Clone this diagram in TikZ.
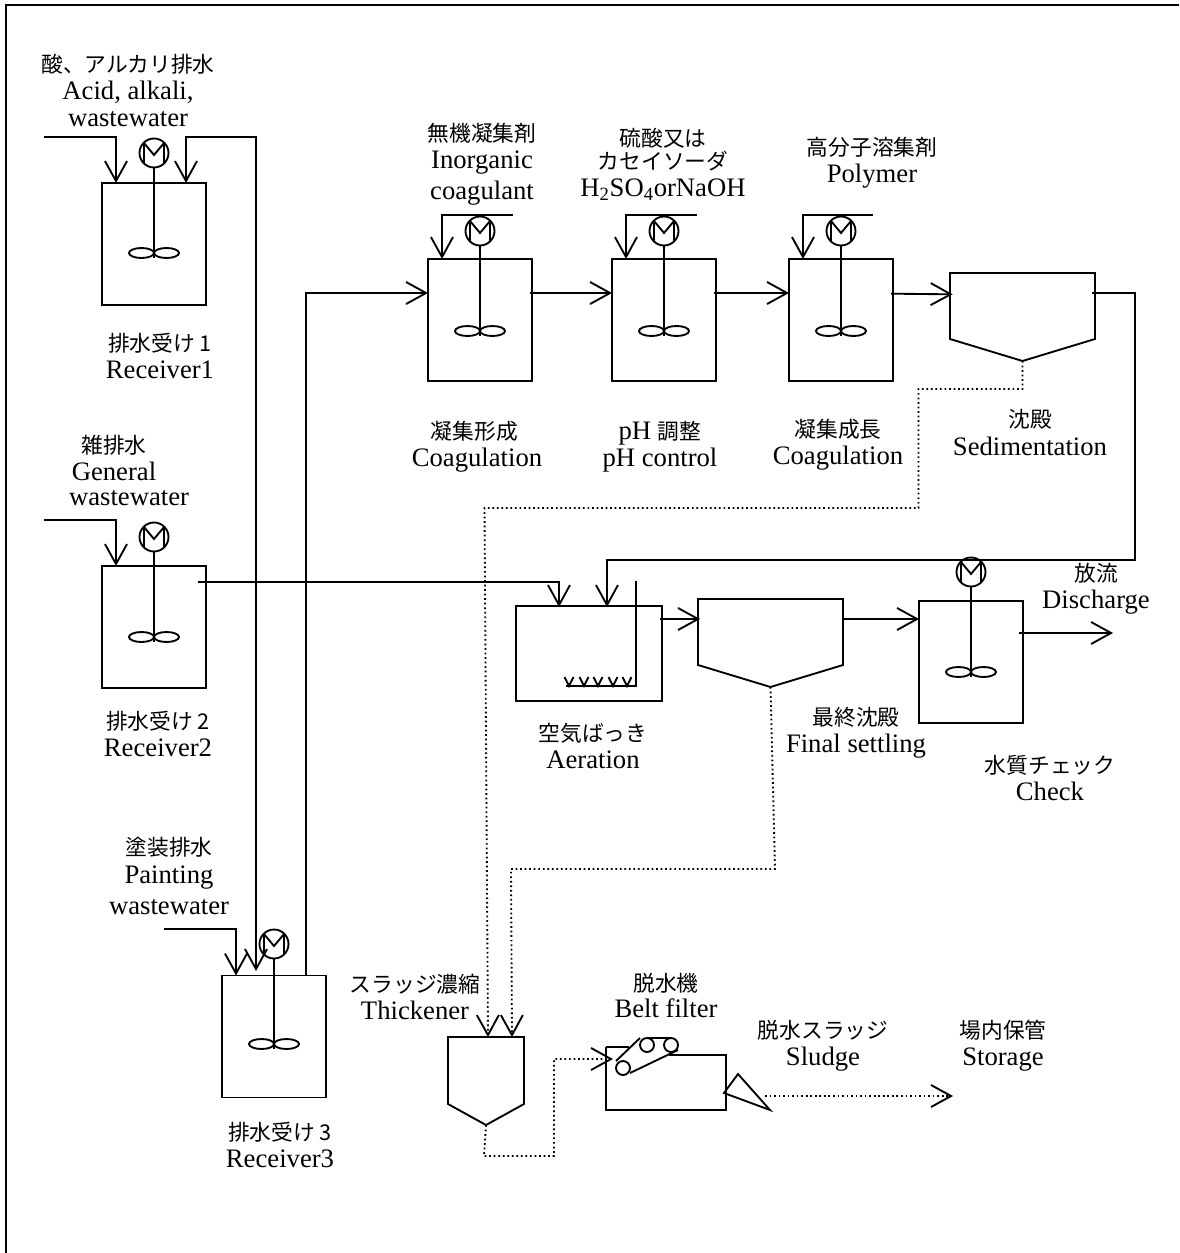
\documentclass[tikz,border=0pt]{standalone}
\usepackage{fontspec}
\setmainfont{Liberation Serif}
\newfontfamily\jpfont{Noto Sans CJK JP}
\newcommand{\jp}[1]{{\jpfont\fontsize{16.3}{20}\selectfont #1}}
\usetikzlibrary{arrows.meta,positioning}

\begin{document}
\begin{tikzpicture}[x=0.75pt, y=-0.75pt, line width=1.4pt,
    >={Straight Barb[length=15pt,width=16.5pt]},
    tank/.style={rectangle, draw, inner sep=0pt, outer sep=0pt, minimum width=78pt, minimum height=91.5pt},
    hop/.style={rectangle, inner sep=0pt, outer sep=0pt},
    motor/.style={circle, draw, inner sep=0pt, outer sep=0pt, minimum size=21.75pt},
    roller/.style={circle, draw, inner sep=0pt, outer sep=0pt, minimum size=10.5pt},
    lab/.style={inner sep=0pt, align=center, font=\fontsize{20}{20.3}\selectfont},
    ar/.style={->},
    dr/.style={dash pattern=on 1.3pt off 2.1pt},
    mixer/.pic={
        \node [motor] (-m) at (0,0) {};
        \draw (-10,-10) -- (-10,10) (10,-10) -- (10,10);
        \draw (-10,-10) -- (0,2) -- (10,-10);
        \draw (-m.south) -- (0,105);
        \draw (-12.5,100) ellipse [x radius=12.5, y radius=5];
        \draw (12.5,100) ellipse [x radius=12.5, y radius=5];
    }]
    \useasboundingbox (0,0) rectangle (1179,1253);
    \draw (6,1253) -- (6,5) -- (1179,5);

    % tanks
    \node [tank] (rcvone) at (154,244) {};
    \node [tank] (rcvtwo) at (154,627) {};
    \node [tank] (rcvthree) at (274,1036.5) {};
    \node [tank] (coagone) at (480,320) {};
    \node [tank] (phctl) at (664,320) {};
    \node [tank] (coagtwo) at (841,320) {};
    \node [tank] (check) at (971,662) {};
    \node [tank, minimum width=109.5pt, minimum height=71.25pt] (aer) at (589,653.5) {};
    \pic (mone) at (154,153) {mixer};
    \pic (mtwo) at (154,537) {mixer};
    \pic (mthree) at (274,944) {mixer};
    \pic (mcoagone) at (480,231) {mixer};
    \pic (mph) at (664,231) {mixer};
    \pic (mcoagtwo) at (841,231) {mixer};
    \pic (mcheck) at (971,572) {mixer};

    % settlers
    \node [hop, minimum width=108.75pt, minimum height=49.5pt] (sed) at (1022.5,306) {};
    \node [hop, minimum width=108.75pt, minimum height=49.5pt] (fin) at (770.5,632) {};
    \node [hop, minimum width=57pt, minimum height=50.25pt] (thk) at (486,1070.5) {};
    \foreach \n/\d in {sed/16.5pt, fin/16.5pt, thk/15.75pt} {
        \coordinate (\n tip) at ([yshift=-\d]\n.south);
        \draw (\n.north west) -- (\n.north east) -- (\n.south east) -- (\n tip) -- (\n.south west) -- cycle;
    }

    % belt filter
    \node [hop, minimum width=90pt, minimum height=47.25pt] (bf) at (666,1078.5) {};
    \node [roller] (rla) at (647,1045) {};
    \node [roller] (rlb) at (671,1045) {};
    \node [roller] (rlc) at (623,1068) {};
    \draw (bf.north west) -- ++(23,0);
    \draw (669,1055) -| (bf.south east) -- (bf.south west) -- (bf.north west);
    \draw (rla.north) -- (rlb.north);
    \draw (616,1061) -- (640,1038);
    \draw (630,1073) -- (678,1050);
    \coordinate (cake) at (724,1093);
    \draw (cake) -- (738,1074) -- (770,1110) -- cycle;

    % free ends
    \coordinate (acid) at (44,137);
    \coordinate (gen) at (44,520);
    \coordinate (paint) at (164,929);
    \coordinate (polyin) at (873,215);
    \coordinate (inorgin) at (513,215);
    \coordinate (phin) at (697,215);
    \coordinate (rcvin) at (256,971);
    \coordinate (out) at (1113,633);
    \coordinate (store) at (953,1096);
    \coordinate (bfin) at (613,1059);
    \coordinate (airtop) at (636,581);
    \coordinate (airend) at (566,686);
    \coordinate (rlout) at (765,1096);
    \coordinate (lnsed) at (1135,293);
    \coordinate (lnaer) at (607,607);

    % pipes
    \draw [ar] (acid) -| ([xshift=10.5pt]rcvone.north west);
    \draw [<->] ([xshift=63pt]rcvone.north west) -- ++(0,-46) -| (rcvin);
    \draw [ar] (gen) -| ([xshift=10.5pt]rcvtwo.north west);
    \draw [ar] (paint) -| ([xshift=10.5pt]rcvthree.north west);
    \draw [ar] ([xshift=-15pt]rcvthree.north east) |- ([yshift=-25.5pt]coagone.north west);
    \draw [ar] (inorgin) -| ([xshift=10.5pt]coagone.north west);
    \draw [ar] (phin) -| ([xshift=10.5pt]phctl.north west);
    \draw [ar] (polyin) -| ([xshift=10.5pt]coagtwo.north west);
    \draw [ar] ([xshift=-1.5pt,yshift=-25.5pt]coagone.north east) -- ([yshift=-25.5pt]phctl.north west);
    \draw [ar] ([xshift=-1.5pt,yshift=-25.5pt]phctl.north east) -- ([yshift=-25.5pt]coagtwo.north west);
    \draw [ar] ([xshift=-1.5pt,yshift=-26pt]coagtwo.north east) -- ([xshift=2pt,yshift=-16pt]sed.north west);
    \draw [ar] ([xshift=-2pt,yshift=-15pt]sed.north east) -- (lnsed) -- ++(0,267) -| (lnaer);
    \draw [ar] ([xshift=-6pt,yshift=-12pt]rcvtwo.north east) -| ([xshift=-36pt]lnaer);
    \draw [ar] ([xshift=-1.5pt,yshift=-9.75pt]aer.north east) -- ([xshift=1.5pt,yshift=-15pt]fin.north west);
    \draw [ar] ([yshift=-15pt]fin.north east) -- ([yshift=-13.5pt]check.north west);
    \draw [ar] ([xshift=-3pt,yshift=-24pt]check.north east) -- (out);
    \draw (airtop) |- (airend);
    \foreach \x in {569,584,598,613,627} {
        \draw (\x-4.5,677) -- (\x,686) -- (\x+4.5,677);
    }

    % sludge
    \draw [dr,->] (sedtip) -- ++(0,28) -- ++(-104,0) -- ++(0,119) -- ++(-434,0) -- ([xshift=1.5pt]thk.north);
    \draw [dr,->] (fintip) -- (775,869) -- (511,869) -- ([xshift=19.5pt]thk.north);
    \draw [dr,->] (thktip) -- ++(-2,31) -- ++(70,0) |- (bfin);
    \draw [dr,->] (rlout) -- (store);

    % labels
    \node [lab] (lacid) at (128,90.5) {\jp{酸、アルカリ排水}\\Acid, alkali,\\wastewater};
    \node [lab] (linorg) at (482,164) {\jp{無機凝集剤}\\Inorganic\\[3pt]coagulant};
    \node [lab] (lacidb) at (663,164.5) {\jp{硫酸又は}\\[-3pt]\jp{カセイソーダ}\\H\textsubscript{2}SO\textsubscript{4}orNaOH};
    \node [lab] (lpoly) at (872,162.5) {\jp{高分子溶集剤}\\Polymer};
    \node [lab] (lrone) at (160,356) {\jp{排水受け 1}\\Receiver1};
    \node [lab] (lcoag) at (477,446.5) {\jp{凝集形成}\hspace*{4pt}\\Coagulation};
    \node [lab] (lph) at (660,446.5) {pH \jp{調整}\\pH control};
    \node [lab] (lcoagb) at (838,444.5) {\jp{凝集成長}\\Coagulation};
    \node [lab] (lsed) at (1030,432.5) {\jp{沈殿}\\Sedimentation};
    \node [lab] (lgen) at (114,458) {\jp{雑排水}\\General};
    \node [lab] (lgenb) at (129,498.5) {wastewater};
    \node [lab] (lrtwo) at (158,734) {\jp{排水受け 2}\\Receiver2};
    \node [lab] (ldis) at (1096,588.5) {\jp{放流}\\Discharge};
    \node [lab] (laer) at (593,746) {\jp{空気ばっき}\\Aeration};
    \node [lab] (lfin) at (856,732.5) {\jp{最終沈殿}\\Final settling};
    \node [lab] (lchk) at (1050,778) {\jp{水質チェック}\\Check};
    \node [lab] (lpnt) at (169,876) {\jp{塗装排水}\\Painting\\[3pt]wastewater};
    \node [lab] (lrthree) at (280,1145) {\jp{排水受け 3}\\Receiver3};
    \node [lab] (lthk) at (415,997) {\jp{スラッジ濃縮}\\Thickener};
    \node [lab] (lbf) at (666,995.5) {\jp{脱水機}\\[-1.5pt]Belt filter};
    \node [lab] (lsl) at (823,1045.5) {\jp{脱水スラッジ}\\Sludge};
    \node [lab] (lst) at (1003,1045.5) {\jp{場内保管}\\Storage};
\end{tikzpicture}
\end{document}
